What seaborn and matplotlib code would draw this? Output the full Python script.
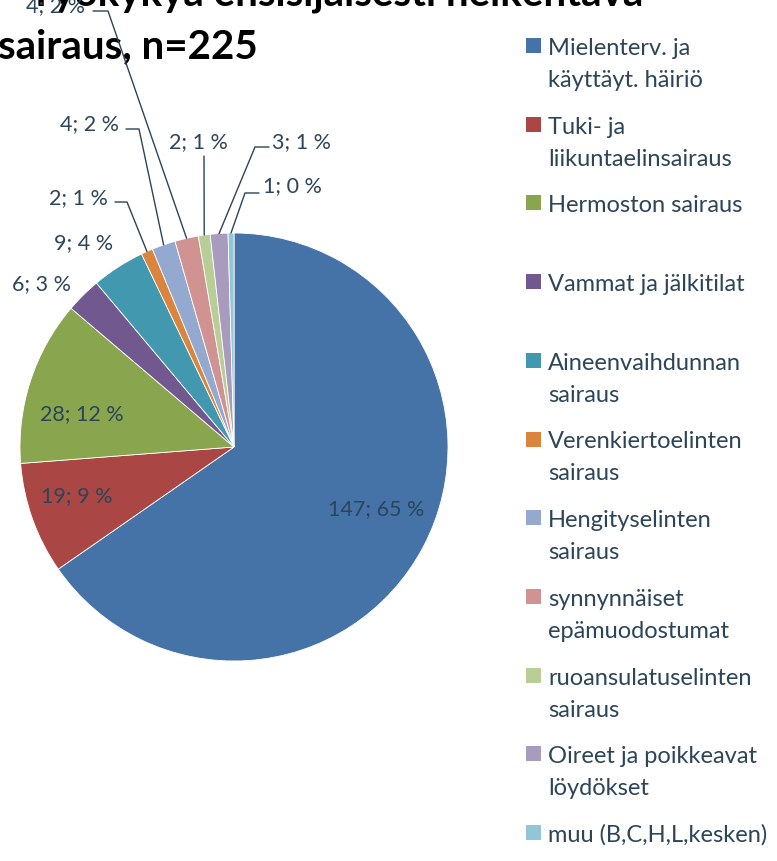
import matplotlib
matplotlib.use("Agg")
import matplotlib.pyplot as plt
import seaborn as sns
import numpy as np
from matplotlib.patches import Rectangle

# Data
categories = ["Mielenterv. ja\nkäyttäyt. häiriö", "Tuki- ja\nliikuntaelinsairaus",
              "Hermoston sairaus", "Vammat ja jälkitilat", "Aineenvaihdunnan\nsairaus",
              "Verenkiertoelinten\nsairaus", "Hengityselinten\nsairaus",
              "synnynnäiset\nepämuodostumat", "ruoansulatuselinten\nsairaus",
              "Oireet ja poikkeavat\nlöydökset", "muu (B,C,H,L,kesken)"]
values = [147, 19, 28, 6, 9, 2, 4, 4, 2, 3, 1]
colors = ["#4572A7", "#AA4643", "#89A54E", "#71588F", "#4198AF", "#DB843D",
          "#93A9CF", "#D19392", "#B9CD96", "#A99BBD", "#92C5D6"]
title_lines = ["Työkykyä ensisijaisesti heikentävä", "sairaus, n=225"]

sns.set_style("white")
plt.rcParams['font.family'] = ['Lato', 'DejaVu Sans']

W, H = 777, 862
TXT = "#2C4558"


def py(y):
    # pixel row from the top -> data y
    return H - y


def excel_percents(vals):
    # largest remainder rounding, like Excel does
    total = sum(vals)
    fl = [100 * v // total for v in vals]
    rem = [100 * v % total for v in vals]
    left = 100 - sum(fl)
    order = sorted(range(len(vals)), key=lambda i: -rem[i])
    for i in order[:left]:
        fl[i] += 1
    return fl


fig = plt.figure(figsize=(W / 100, H / 100), dpi=100)
ax = fig.add_axes([0, 0, 1, 1])

cx, cy, r = 234, py(448), 214
wedges, _ = ax.pie(values, colors=colors, startangle=90, counterclock=False,
                   radius=r, center=(cx, cy),
                   wedgeprops=dict(edgecolor="white", linewidth=0.6))
ax.set_xlim(0, W)
ax.set_ylim(0, H)
ax.axis("off")

pcts = excel_percents(values)

# label placement (x centre, baseline from top) and leader line points
label_pos = [(376, 515), (77, 502), (82, 420), (42, 290), (84, 249), (78, 204),
             (90, 130), (55, 12), (198, 148), (302, 148), (292, 192)]
leader_pts = [None, None, None, None, None,
              [(115, 203), (127, 203)], [(126, 130), (139, 130)],
              [(93, 12), (108, 12)], [(204, 157)],
              [(269, 148), (255, 148)], [(259, 194), (245, 194)]]

for i, w in enumerate(wedges):
    lx, ly = label_pos[i]
    ax.text(lx, py(ly), f"{values[i]}; {pcts[i]} %", ha="center", va="baseline",
            fontsize=15.5, color=TXT, zorder=5)
    if leader_pts[i] is not None:
        mid = np.deg2rad((w.theta1 + w.theta2) / 2)
        ex, ey = cx + r * np.cos(mid), cy + r * np.sin(mid)
        xs = [p[0] for p in leader_pts[i]] + [ex]
        ys = [py(p[1]) for p in leader_pts[i]] + [ey]
        ax.plot(xs, ys, color=TXT, lw=1.0, zorder=4)

# legend drawn by hand: fixed slot per entry
for i, cat in enumerate(categories):
    base = 55 + 78.7 * i
    ax.add_patch(Rectangle((526, py(base - 1)), 15, 15, color=colors[i], lw=0))
    for j, line in enumerate(cat.split("\n")):
        ax.text(548, py(base + 32 * j), line, ha="left", va="baseline",
                fontsize=17, color=TXT)

# title (left part falls outside the picture)
ax.text(643, py(5), title_lines[0], ha="right", va="baseline", fontsize=29,
        fontweight="bold", color="black", zorder=3)
ax.text(258, py(58), title_lines[1], ha="right", va="baseline", fontsize=29,
        fontweight="bold", color="black", zorder=3)

fig.savefig("out.png", dpi=100)
